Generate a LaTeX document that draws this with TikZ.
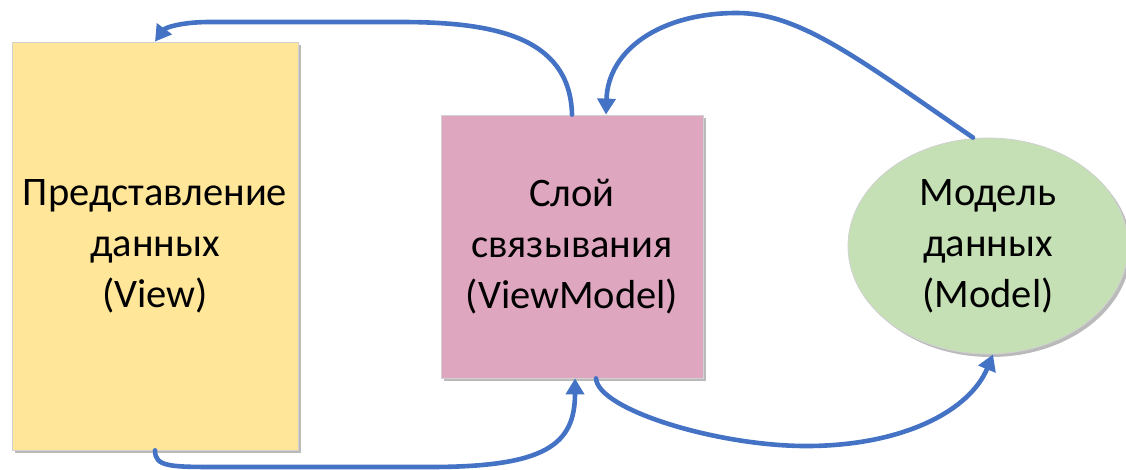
\documentclass[tikz,border=0pt]{standalone}
\usepackage{fontspec}
\setmainfont{Carlito}
\usetikzlibrary{arrows.meta,shadows,shapes.geometric}
\definecolor{arrowblue}{HTML}{4472C4}
\definecolor{viewfill}{HTML}{FFE699}
\definecolor{vmfill}{HTML}{DFA6BF}
\definecolor{modelfill}{HTML}{C5E0B4}
\tikzset{
  box/.style={draw=black!18, line width=0.8pt, align=center, inner sep=0pt,
    font=\fontsize{40.5}{51}\selectfont,
    drop shadow={shadow xshift=3pt, shadow yshift=-3pt, fill=black!45, opacity=0.6}},
  conn/.style={draw=arrowblue, line width=4.6pt, line cap=round,
    -{Triangle[width=18pt,length=16pt]}}
}
\begin{document}
\begin{tikzpicture}[x=1pt,y=-1pt]
\useasboundingbox (0,0) rectangle (1126,470);
\node[box, fill=viewfill, minimum width=286pt, minimum height=408pt] (view) at (155,246)
  {Представление\\данных\\(View)};
\node[box, fill=vmfill, minimum width=262pt, minimum height=263pt] (vm) at (572,246.5)
  {Слой\\связывания\\(ViewModel)};
\node[box, ellipse, fill=modelfill, minimum width=280pt, minimum height=216pt] (model) at (988,246)
  {Модель\\данных\\(Model)};
% ViewModel -> View (top)
\draw[conn] (vm.north) .. controls (570,35) and (490,22) .. (400,22) -- (210,22)
  .. controls (180,22) and (165,28) .. (view.north);
% View -> ViewModel (bottom)
\draw[conn] (view.south) .. controls (155,467) and (170,467) .. (220,467) -- (430,467)
  .. controls (545,467) and (575,445) .. ([xshift=3pt]vm.south);
% ViewModel -> Model (bottom)
\draw[conn] ([xshift=24pt]vm.south) .. controls (598,410) and (720,447) .. (810,446)
  .. controls (905,445) and (970,410) .. ([xshift=5pt]model.south);
% Model -> ViewModel (top)
\draw[conn] ([xshift=-15pt]model.north) .. controls (860,60) and (800,13) .. (737,13)
  .. controls (660,13) and (608,50) .. ([xshift=34pt]vm.north);
\end{tikzpicture}
\end{document}
